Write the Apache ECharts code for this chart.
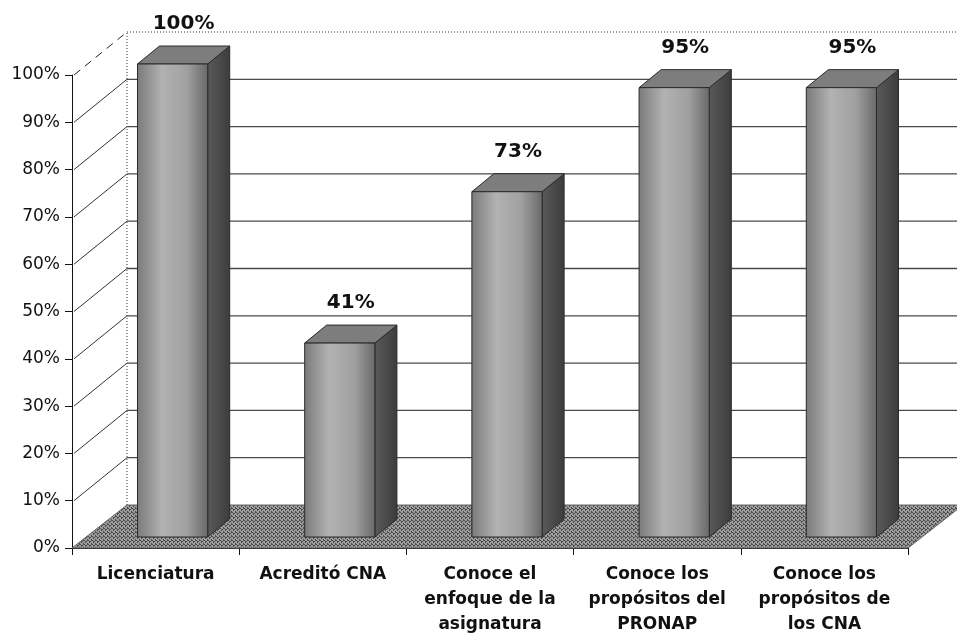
<!DOCTYPE html>
<html>
<head>
<meta charset="utf-8">
<script src="https://cdn.jsdelivr.net/npm/echarts@6/dist/echarts.min.js"></script>
<style>
  html, body { margin: 0; padding: 0; background: #fff; }
  #chart { width: 957px; height: 637px; }
</style>
</head>
<body>
<div id="chart"></div>
<script>
// data
const categories = [
  "Licenciatura",
  "Acreditó CNA",
  "Conoce el\nenfoque de la\nasignatura",
  "Conoce los\npropósitos del\nPRONAP",
  "Conoce los\npropósitos de\nlos CNA"
];
const values = [100, 41, 73, 95, 95];
const yTicks = [0, 10, 20, 30, 40, 50, 60, 70, 80, 90, 100];

// 3d look
const WALL_DX = 55, WALL_DY = -43;   // depth of the floor / back wall
const BAR_DX = 22, BAR_DY = -18;     // depth of each bar
const BAR_OFF_X = 17, BAR_OFF_Y = -11; // bar front face set back from the front plane

// dither-ish pattern for the floor
function makePattern(c1, c2) {
  const cv = document.createElement("canvas");
  cv.width = 4; cv.height = 4;
  const ctx = cv.getContext("2d");
  ctx.fillStyle = c1;
  ctx.fillRect(0, 0, 4, 4);
  ctx.fillStyle = c2;
  ctx.fillRect(0, 0, 1, 1);
  ctx.fillRect(2, 1, 1, 1);
  ctx.fillRect(1, 2, 1, 1);
  ctx.fillRect(3, 3, 1, 1);
  ctx.fillRect(3, 0, 1, 1);
  ctx.fillRect(1, 1, 1, 1);
  return cv;
}
const floorPattern = makePattern("#9c9c9c", "#4e4e4e");

const chart = echarts.init(document.getElementById("chart"));

//墙面、地板和网格线
function renderWalls(params, api) {
  const cs = params.coordSys;
  const v = api.value(0);
  const y = api.coord([0, v])[1];
  const x0 = cs.x;
  const children = [];

  if (v === 0) {
    // floor
    children.push({
      type: "polygon",
      shape: {
        points: [
          [x0, y],
          [x0 + cs.width, y],
          [x0 + cs.width + WALL_DX, y + WALL_DY],
          [x0 + WALL_DX, y + WALL_DY]
        ]
      },
      style: { fill: { image: floorPattern, repeat: "repeat" }, stroke: "#666", lineWidth: 1 }
    });
    // back wall left edge (dotted)
    const yTop = api.coord([0, 100])[1];
    children.push({
      type: "line",
      shape: { x1: x0 + WALL_DX, y1: y + WALL_DY, x2: x0 + WALL_DX, y2: yTop + WALL_DY },
      style: { stroke: "#333", lineWidth: 1, lineDash: [1, 2] }
    });
  } else {
    const top = v === 100;
    children.push({
      type: "line",
      shape: { x1: x0 + WALL_DX, y1: y + WALL_DY, x2: x0 + cs.width + WALL_DX, y2: y + WALL_DY },
      style: top
        ? { stroke: "#333", lineWidth: 1, lineDash: [1, 2] }
        : { stroke: "#4a4a4a", lineWidth: 1.3 }
    });
    children.push({
      type: "line",
      shape: { x1: x0 + 2, y1: y, x2: x0 + WALL_DX, y2: y + WALL_DY },
      style: top
        ? { stroke: "#222", lineWidth: 1, lineDash: [8, 6] }
        : { stroke: "#333", lineWidth: 1 }
    });
  }
  return { type: "group", children: children };
}

//柱子
function renderBar(params, api) {
  const base = api.coord([api.value(0), 0]);
  const top = api.coord([api.value(0), api.value(1)]);
  const bw = api.size([1, 0])[0] * 0.42;
  const fx0 = base[0] + BAR_OFF_X - bw / 2;
  const fx1 = fx0 + bw;
  const fyB = base[1] + BAR_OFF_Y;
  const fyT = top[1] + BAR_OFF_Y;

  const frontFill = new echarts.graphic.LinearGradient(0, 0, 1, 0, [
    { offset: 0, color: "#7a7a7a" },
    { offset: 0.35, color: "#b2b2b2" },
    { offset: 0.7, color: "#a0a0a0" },
    { offset: 1, color: "#686868" }
  ]);
  const sideFill = new echarts.graphic.LinearGradient(0, 0, 1, 0, [
    { offset: 0, color: "#5a5a5a" },
    { offset: 1, color: "#3c3c3c" }
  ]);

  return {
    type: "group",
    children: [
      {
        type: "polygon",
        shape: { points: [[fx1, fyB], [fx1 + BAR_DX, fyB + BAR_DY], [fx1 + BAR_DX, fyT + BAR_DY], [fx1, fyT]] },
        style: { fill: sideFill, stroke: "#2a2a2a", lineWidth: 1 }
      },
      {
        type: "polygon",
        shape: { points: [[fx0, fyT], [fx1, fyT], [fx1 + BAR_DX, fyT + BAR_DY], [fx0 + BAR_DX, fyT + BAR_DY]] },
        style: { fill: "#7d7d7d", stroke: "#2a2a2a", lineWidth: 1 }
      },
      {
        type: "rect",
        shape: { x: fx0, y: fyT, width: bw, height: fyB - fyT },
        style: { fill: frontFill, stroke: "#2a2a2a", lineWidth: 1 }
      },
      {
        type: "text",
        style: {
          x: (fx0 + fx1 + BAR_DX) / 2,
          y: fyT + BAR_DY - 12,
          text: api.value(1) + "%",
          fill: "#111",
          font: "bold 20px 'DejaVu Sans'",
          align: "center",
          verticalAlign: "bottom"
        }
      }
    ]
  };
}

const option = {
  backgroundColor: "#fff",
  animation: false,
  grid: { left: 72, width: 836, top: 75, height: 473 },
  xAxis: {
    type: "category",
    data: categories,
    boundaryGap: true,
    axisLine: { lineStyle: { color: "#111", width: 1 } },
    axisTick: { show: true, length: 7, lineStyle: { color: "#111" } },
    axisLabel: {
      margin: 14,
      interval: 0,
      color: "#111",
      fontFamily: "DejaVu Sans",
      fontWeight: "bold",
      fontSize: 17,
      lineHeight: 25
    }
  },
  yAxis: {
    type: "value",
    min: 0,
    max: 100,
    interval: 10,
    axisLine: { show: true, lineStyle: { color: "#111", width: 1 } },
    axisTick: { show: true, length: 7, lineStyle: { color: "#111" } },
    splitLine: { show: false },
    axisLabel: {
      formatter: "{value}%",
      margin: 12,
      color: "#111",
      fontFamily: "DejaVu Sans",
      fontSize: 17
    }
  },
  series: [
    {
      type: "custom",
      z: 1,
      clip: false,
      silent: true,
      renderItem: renderWalls,
      encode: { y: 0 },
      data: yTicks.map(v => [v])
    },
    {
      type: "custom",
      z: 3,
      clip: false,
      renderItem: renderBar,
      encode: { x: 0, y: 1 },
      data: values.map((v, i) => [i, v])
    }
  ]
};

chart.setOption(option);
</script>
</body>
</html>
